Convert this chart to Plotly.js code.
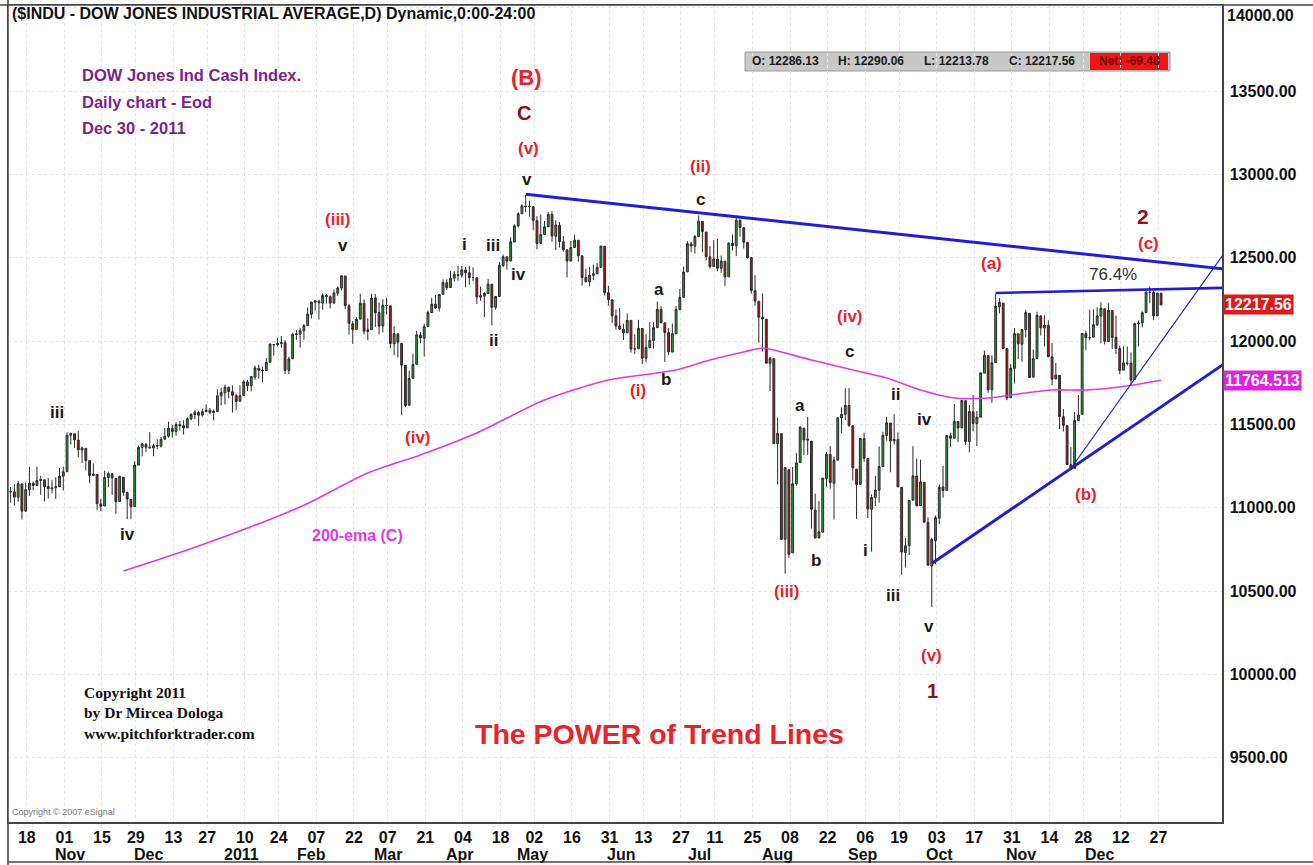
<!DOCTYPE html>
<html><head><meta charset="utf-8">
<script src="https://cdn.plot.ly/plotly-3.0.1.min.js"></script>
<style>html,body{margin:0;padding:0;background:#fff;}#chart{width:1313px;height:865px;}</style>
</head><body><div id="chart"></div>
<script>
// ---------- DATA ----------
const firstDay = '2010-10-14', lastDay = '2011-12-30';
const holidays = ['2010-11-25','2010-12-24','2011-01-17','2011-02-21','2011-04-22','2011-05-30','2011-07-04','2011-09-05','2011-11-24','2011-12-26'];

// daily OHLC, one line per month (Oct 2010 ... Dec 2011)
const open = [
11096,11095,11063,11142,10979,11108,11146,11133,11163,11167,11127,11113,
11120,11126,11189,11216,11435,11443,11406,11346,11356,11282,11193,11200,11023,11010,11181,11203,11176,11037,11183,11091,11050,
11007,11255,11361,11380,11363,11358,11373,11370,11411,11429,11476,11457,11499,11492,11479,11532,11558,11571,11555,11576,11584,11570,
11577,11671,11689,11722,11696,11672,11638,11673,11754,11732,11783,11837,11823,11823,11873,11979,11977,11985,11990,11824,
11893,12039,12041,12061,12092,12161,12232,12239,12227,12273,12266,12227,12287,12318,12390,12211,12104,12069,12131,
12226,12057,12068,12258,12171,12090,12213,12211,11983,12043,11986,11853,11615,11776,11860,12036,12017,12086,12171,12221,12197,12280,12350,
12321,12377,12398,12395,12426,12409,12380,12380,12264,12269,12285,12341,12202,12267,12453,12505,12480,12594,12690,12763,
12810,12806,12807,12722,12586,12639,12685,12759,12629,12695,12595,12547,12480,12561,12604,12511,12381,12355,12394,12403,12442,
12569,12290,12247,12151,12090,12070,12049,12124,11952,11953,12075,11897,11961,12003,12080,12189,12109,12050,11934,12043,12188,12262,
12415,12582,12569,12626,12718,12654,12505,12447,12491,12436,12479,12385,12587,12572,12723,12680,12592,12500,12302,12239,
12144,12131,11866,11894,11384,11444,10810,11228,10729,11143,11270,11477,11405,11399,10985,10820,10853,11175,11320,11146,11285,11538,11560,
11613,11492,11231,11140,11414,11295,10990,11061,11105,11246,11433,11508,11401,11408,11122,10731,10772,11045,11190,11012,11152,
10912,10650,10803,10937,11125,11104,11431,11417,11517,11479,11642,11397,11575,11505,11543,11807,11912,11707,11870,12206,12227,
11955,11660,11836,12043,11981,12069,12166,11783,11895,12151,12078,12094,11905,11772,11794,11546,11492,11258,11236,11523,11560,
12045,12021,12023,12097,12150,12193,11997,12183,12022,11955,11825,11867,11867,11769,12103,12108,12170,12292,12291,12151,12286.13
];
const high = [
11124,11141,11161,11142,11151,11245,11157,11247,11191,11167,11178,11165,
11182,11238,11246,11452,11451,11443,11460,11366,11356,11282,11266,11200,11053,11222,11216,11203,11176,11193,11183,11096,11050,
11277,11373,11388,11387,11453,11384,11410,11424,11478,11516,11498,11513,11521,11524,11541,11567,11585,11579,11594,11620,11598,11589,
11711,11720,11738,11727,11733,11684,11734,11767,11767,11788,11853,11858,11845,11897,11985,11981,12020,12030,12005,11905,
12050,12065,12080,12101,12201,12236,12247,12247,12286,12282,12273,12309,12328,12392,12390,12223,12121,12143,12283,
12250,12136,12284,12283,12231,12250,12257,12211,12088,12043,11986,11853,11822,11924,12061,12054,12104,12183,12260,12277,12283,12370,12370,
12419,12419,12450,12450,12445,12451,12442,12380,12327,12293,12372,12341,12270,12474,12518,12505,12622,12700,12773,12820,
12876,12842,12809,12749,12757,12720,12773,12778,12724,12714,12630,12547,12600,12639,12607,12511,12434,12443,12459,12468,12570,
12569,12331,12247,12189,12198,12104,12166,12124,12040,12127,12075,12042,12113,12113,12237,12209,12109,12078,12105,12209,12312,12447,
12599,12596,12637,12753,12718,12654,12569,12605,12613,12513,12479,12592,12639,12752,12735,12680,12592,12500,12395,12239,
12285,12131,11904,11894,11540,11444,11244,11228,11244,11327,11489,11477,11545,11399,11084,11040,11176,11335,11369,11307,11539,11602,11717,
11717,11492,11231,11415,11450,11295,11080,11191,11367,11456,11545,11508,11562,11452,11122,10817,11045,11369,11295,11288,11152,
10942,10819,10953,11139,11251,11434,11450,11622,11517,11645,11642,11616,11676,11580,11809,11942,11912,11914,12284,12258,12227,
11955,11862,12077,12043,12070,12187,12166,11949,12176,12151,12154,12124,11988,11868,11794,11593,11492,11363,11573,11676,12046,
12061,12187,12190,12202,12232,12193,12226,12183,12153,11972,11968,11967,11931,12110,12123,12178,12297,12327,12303,12289,12290.06
];
const low = [
11030,11012,11035,10929,10976,11071,11104,11133,11077,11037,11054,11086,
11052,11126,11103,11216,11379,11358,11303,11268,11224,11147,11189,10985,10980,11010,11123,11076,10963,11037,11071,10931,10930,
11007,11255,11308,11333,11356,11309,11351,11361,11406,11420,11420,11431,11463,11438,11479,11525,11530,11491,11546,11573,11560,11524,
11577,11614,11620,11656,11570,11585,11638,11673,11700,11697,11768,11774,11753,11822,11869,11912,11966,11960,11802,11800,
11893,12007,11960,12008,12092,12135,12183,12129,12188,12224,12196,12227,12270,12303,12190,12040,11983,12069,12131,
12040,12005,12068,12085,12040,12051,12160,11957,11915,11902,11555,11602,11615,11776,11860,11986,11906,12086,12170,12194,12177,12280,12305,
12321,12356,12362,12380,12322,12339,12359,12222,12241,12144,12285,12093,12187,12267,12443,12427,12480,12594,12681,12763,
12772,12746,12665,12550,12586,12638,12685,12596,12546,12561,12536,12381,12478,12560,12476,12332,12350,12328,12365,12403,12442,
12272,12212,12109,12068,12068,12006,12049,11931,11922,11953,11862,11873,11961,11954,12080,12107,11874,11916,11932,12043,12188,12262,
12415,12532,12524,12626,12533,12484,12434,12446,12418,12409,12331,12385,12543,12510,12626,12555,12495,12284,12212,11990,
11936,11866,11700,11383,11139,10810,10604,10699,10729,11131,11270,11315,11317,10875,10817,10813,10853,11126,11113,10929,11285,11446,11526,
11484,11163,10933,11140,11275,10938,10736,11010,11030,11246,11402,11212,11378,11124,10597,10640,10716,11045,11009,11012,10910,
10655,10404,10660,10901,11059,11104,11362,11417,11393,11479,11377,11332,11457,11370,11543,11807,11689,11629,11870,12166,11955,
11645,11660,11745,11891,11875,12021,11781,11783,11895,12033,11967,11904,11735,11772,11472,11457,11258,11231,11236,11523,11560,
11946,12004,12023,12090,11986,11979,11997,11951,11922,11801,11825,11853,11735,11769,11968,12082,12170,12226,12125,12151,12213.78
];
const close = [
11095,11063,11144,10979,11108,11147,11133,11164,11169,11126,11114,11118,
11125,11189,11215,11435,11444,11407,11347,11357,11283,11193,11202,11024,11008,11181,11204,11179,11036,11187,11092,11052,11006,
11256,11362,11382,11362,11359,11372,11370,11410,11429,11477,11457,11499,11492,11478,11533,11559,11573,11555,11576,11585,11570,11578,
11671,11691,11723,11697,11675,11637,11672,11755,11732,11787,11838,11825,11823,11872,11981,11977,11985,11990,11824,11892,
12040,12042,12062,12092,12162,12233,12240,12229,12273,12268,12227,12288,12318,12391,12213,12106,12068,12130,12226,
12058,12067,12258,12170,12090,12214,12213,11985,12044,11993,11855,11613,11775,11859,12037,12019,12086,12171,12221,12198,12279,12351,12320,
12377,12400,12394,12427,12409,12380,12381,12264,12271,12285,12342,12202,12267,12454,12506,12480,12595,12691,12763,12811,
12807,12808,12724,12584,12639,12685,12760,12630,12696,12596,12548,12480,12560,12605,12512,12381,12356,12395,12403,12442,12570,
12290,12249,12151,12090,12071,12049,12124,11952,11953,12076,11897,11962,12004,12080,12190,12110,12050,11935,12044,12189,12261,12414,
12583,12570,12626,12719,12657,12506,12447,12492,12437,12480,12385,12587,12572,12724,12681,12593,12501,12303,12240,12143,
12132,11867,11896,11384,11445,10810,11240,10720,11143,11269,11483,11406,11410,10991,10818,10855,11177,11321,11150,11285,11539,11560,11614,
11494,11240,11139,11415,11296,10992,11061,11106,11247,11433,11509,11401,11409,11125,10734,10771,11044,11191,11011,11154,10913,
10655,10809,10940,11123,11103,11433,11416,11519,11478,11644,11397,11577,11505,11542,11809,11914,11707,11869,12209,12231,11955,
11658,11836,12044,11983,12068,12170,11781,11894,12154,12079,12096,11906,11771,11796,11547,11494,11258,11232,11523,11556,12046,
12020,12019,12098,12150,12196,11998,12184,12021,11955,11823,11869,11866,11766,12104,12108,12170,12294,12291,12151,12287.04,12217.56
];

// 200-ema read at sample dates
const emaDates = ['2010-11-26','2010-12-27','2011-02-03','2011-03-02','2011-03-22','2011-04-12','2011-05-09','2011-06-02','2011-06-15','2011-06-28','2011-07-12','2011-07-25','2011-08-01','2011-08-05','2011-08-18','2011-09-02','2011-09-16','2011-09-29','2011-10-12','2011-10-25','2011-11-04','2011-11-17','2011-12-01','2011-12-14','2011-12-30'];
const emaValues = [10620,10770,11004,11208,11316,11448,11646,11766,11796,11826,11886,11934,11958,11940,11886,11826,11778,11706,11658,11658,11682,11706,11706,11724,11764.513];

// trend lines: anchor point + second reference point, extended to right edge
const trendStartDates  = ['2011-05-02','2011-10-27','2011-10-04','2011-11-25'];
const trendStartPrices = [12880,12288,10665,11235];
const trendRefDates    = ['2011-07-21','2011-12-29','2011-11-25','2011-12-19'];
const trendRefPrices   = [12745,12310,11235,11742];

const tickDates = ['2010-10-18','2010-11-01','2010-11-15','2010-11-29','2010-12-13','2010-12-27','2011-01-10','2011-01-24','2011-02-07','2011-02-22','2011-03-07','2011-03-21','2011-04-04','2011-04-18','2011-05-02','2011-05-16','2011-05-31','2011-06-13','2011-06-27','2011-07-11','2011-07-25','2011-08-08','2011-08-22','2011-09-06','2011-09-19','2011-10-03','2011-10-17','2011-10-31','2011-11-14','2011-11-28','2011-12-12','2011-12-27'];
const monthNames = ['Nov','Dec','2011','Feb','Mar','Apr','May','Jun','Jul','Aug','Sep','Oct','Nov','Dec'];
const priceTicks = [9500,10000,10500,11000,11500,12000,12500,13000,13500,14000];

// ---------- GEOMETRY ----------
function tradingDays(a,b,hol){const out=[];let t=Date.parse(a+'T00:00:00Z');const e=Date.parse(b+'T00:00:00Z');
  while(t<=e){const d=new Date(t);const w=d.getUTCDay();const s=d.toISOString().slice(0,10);
    if(w!==0&&w!==6&&hol.indexOf(s)<0)out.push(s);t+=86400000;}return out;}
const dates = tradingDays(firstDay,lastDay,holidays);
if(dates.length!==close.length) console.warn('length mismatch',dates.length,close.length);
const idx = s => dates.indexOf(s);
const xs = dates.map((d,i)=>i);

const W=1313,H=865,ML=8,MR=91,MT=5,MB=43;
const PW=W-ML-MR, PH=H-MT-MB;
const X0=-0.7, X1=322.2, Y0=9114, Y1=14016;
const px = p => (p-ML)/PW;           // pixel -> paper x
const py = p => 1-(p-MT)/PH;         // pixel -> paper y
const FONT='Arial, "Liberation Sans", sans-serif';

const RED='#e8232b', DRED='#8c1313', BLK='#1a1a1a', PURPLE='#7d1f8c', MAG='#e03ae0', BLUE='#1f1fd4';

const traces = [];
traces.push({type:'candlestick', x:xs, open, high, low, close,
  increasing:{line:{color:'#2a2a2a',width:1},fillcolor:'#2f9a3b'},
  decreasing:{line:{color:'#2a2a2a',width:1},fillcolor:'#b3141c'},
  whiskerwidth:0, hoverinfo:'skip', showlegend:false});
traces.push({type:'scatter',mode:'lines',x:emaDates.map(idx),y:emaValues,
  line:{color:MAG,width:1.6,shape:'spline',smoothing:0.8},hoverinfo:'skip',showlegend:false});

const trendWidths=[3,2.6,3,1.2];
trendStartDates.forEach((d,i)=>{
  const x0=idx(d), y0=trendStartPrices[i], xr=idx(trendRefDates[i]), yr=trendRefPrices[i];
  const slope=(yr-y0)/(xr-x0), xe=X1+3;
  traces.push({type:'scatter',mode:'lines',x:[x0,xe],y:[y0,y0+slope*(xe-x0)],
    line:{color:BLUE,width:trendWidths[i]},hoverinfo:'skip',showlegend:false});
});

// ---------- ANNOTATIONS ----------
const ann=[];
function lab(x,y,text,color,size,opt){ann.push(Object.assign({xref:'paper',yref:'paper',x:px(x),y:py(y),text:text,
  showarrow:false,xanchor:'center',yanchor:'middle',font:{family:FONT,size:size,color:color}},opt||{}));}
const b=t=>'<b>'+t+'</b>';

lab(10,14,b('($INDU - DOW JONES INDUSTRIAL AVERAGE,D) Dynamic,0:00-24:00'),'#111',16,{xanchor:'left'});
lab(80,75,b('DOW Jones Ind Cash Index.'),PURPLE,16.5,{xanchor:'left'});
lab(80,102,b('Daily chart - Eod'),PURPLE,16.5,{xanchor:'left'});
lab(80,128,b('Dec 30 - 2011'),PURPLE,16.5,{xanchor:'left'});

// wave labels
lab(526,78,b('(B)'),RED,22); lab(524,113,b('C'),DRED,20); lab(528,148,b('(v)'),RED,17); lab(527,180,b('v'),BLK,17);
lab(338,220,b('(iii)'),RED,17); lab(343,246,b('v'),BLK,17);
lab(57,412,b('iii'),BLK,17); lab(127,534,b('iv'),BLK,17); lab(418,437,b('(iv)'),RED,17);
lab(464,244,b('i'),BLK,17); lab(493,245,b('iii'),BLK,17); lab(518,275,b('iv'),BLK,17); lab(493,340,b('ii'),BLK,17);
lab(700,166,b('(ii)'),RED,17); lab(700,199,b('c'),BLK,17);
lab(659,289,b('a'),BLK,17); lab(666,379,b('b'),BLK,17); lab(638,390,b('(i)'),RED,17);
lab(850,316,b('(iv)'),RED,17); lab(849,351,b('c'),BLK,17);
lab(800,405,b('a'),BLK,17); lab(816,560,b('b'),BLK,17); lab(787,591,b('(iii)'),RED,17);
lab(895,394,b('ii'),BLK,17); lab(924,419,b('iv'),BLK,17); lab(865,550,b('i'),BLK,17); lab(893,595,b('iii'),BLK,17);
lab(929,626,b('v'),BLK,17); lab(931,655,b('(v)'),RED,17); lab(932,691,b('1'),DRED,20);
lab(991,263,b('(a)'),RED,17); lab(1143,217,b('2'),DRED,21); lab(1148,243,b('(c)'),RED,17);
lab(1113,274,'76.4%','#333',17); lab(1086,494,b('(b)'),RED,17);
lab(357,535,b('200-ema (C)'),MAG,16);

const SERIF='"Liberation Serif", "DejaVu Serif", serif';
[['Copyright 2011',692],['by Dr Mircea Dologa',712],['www.pitchforktrader.com',733]].forEach(r=>
  ann.push({xref:'paper',yref:'paper',x:px(82),y:py(r[1]),text:b(r[0]),showarrow:false,xanchor:'left',yanchor:'middle',
    font:{family:SERIF,size:15.5,color:'#111'}}));
lab(659,734,b('The POWER of Trend Lines'),RED,28.5);
lab(10,812,'Copyright © 2007 eSignal','#777',9,{xanchor:'left'});

// OHLC box
const n=close.length-1, net=close[n]-close[n-1];
const boxTxt=['O: '+open[n].toFixed(2),'H: '+high[n].toFixed(2),'L: '+low[n].toFixed(2),'C: '+close[n].toFixed(2)];
[785,871,956,1042].forEach((x,i)=>lab(x,61,b(boxTxt[i]),'#1a1a1a',12));
lab(1129,61,b('Net: '+net.toFixed(2)),'#6e0000',12);

// price badges
ann.push({xref:'paper',yref:'y',x:1,y:close[n],xanchor:'left',yanchor:'middle',xshift:1,text:b(close[n].toFixed(2)),
  showarrow:false,bgcolor:'#e01818',borderpad:1,font:{family:FONT,size:16,color:'#fff'}});
ann.push({xref:'paper',yref:'y',x:1,y:emaValues[emaValues.length-1],xanchor:'left',yanchor:'middle',xshift:1,
  text:b(String(emaValues[emaValues.length-1])),showarrow:false,bgcolor:'#e022e0',borderpad:1,font:{family:FONT,size:16,color:'#fff'}});
// top price label (pushed inside the page like the original)
const topTick=priceTicks[priceTicks.length-1];
lab(1225,15,b(topTick.toFixed(2)),'#111',16,{xanchor:'left'});

// month row
[70,148,241,311,388,460,532,621,699,777,863,939,1021,1099].forEach((x,i)=>lab(x,854,b(monthNames[i]),'#111',16));

// ---------- SHAPES ----------
const shapes=[
  {type:'rect',xref:'paper',yref:'paper',x0:px(745),x1:px(1170),y0:py(71),y1:py(52),fillcolor:'#c8c8c8',line:{color:'#9a9a9a',width:1},layer:'below'},
  {type:'rect',xref:'paper',yref:'paper',x0:px(1090),x1:px(1168),y0:py(70),y1:py(53),fillcolor:'#f01616',line:{width:0},layer:'below'},
  {type:'line',xref:'paper',yref:'paper',x0:px(0),x1:px(1313),y0:py(5),y1:py(5),line:{color:'#444',width:1.5}},
  {type:'line',xref:'paper',yref:'paper',x0:px(8),x1:px(8),y0:py(0),y1:py(865),line:{color:'#444',width:1.5}},
  {type:'line',xref:'paper',yref:'paper',x0:px(8),x1:px(1313),y0:py(862),y1:py(862),line:{color:'#444',width:1.5}}
];

const layout={
  width:W,height:H,margin:{l:ML,r:MR,t:MT,b:MB,pad:0},
  paper_bgcolor:'#fff',plot_bgcolor:'#fff',showlegend:false,
  xaxis:{range:[X0,X1],rangeslider:{visible:false},type:'linear',
    tickvals:tickDates.map(d=>idx(d)+2.3),ticktext:tickDates.map(d=>b(d.slice(8))),
    tickfont:{family:FONT,size:16,color:'#111'},ticks:'',showgrid:true,gridcolor:'#e4e4e4',griddash:'dot',
    showline:true,linecolor:'#444',linewidth:1.5,mirror:true,zeroline:false,fixedrange:true},
  yaxis:{range:[Y0,Y1],side:'right',tickvals:priceTicks,ticktext:priceTicks.map(v=>v===topTick?'':b(v.toFixed(2))),
    tickfont:{family:FONT,size:16,color:'#111'},ticks:'',ticklabelstandoff:3,showgrid:true,gridcolor:'#e4e4e4',griddash:'dot',
    showline:true,linecolor:'#444',linewidth:1.5,mirror:true,zeroline:false,fixedrange:true},
  annotations:ann,shapes:shapes
};
Plotly.newPlot('chart',traces,layout,{staticPlot:true,displayModeBar:false});
</script></body></html>
